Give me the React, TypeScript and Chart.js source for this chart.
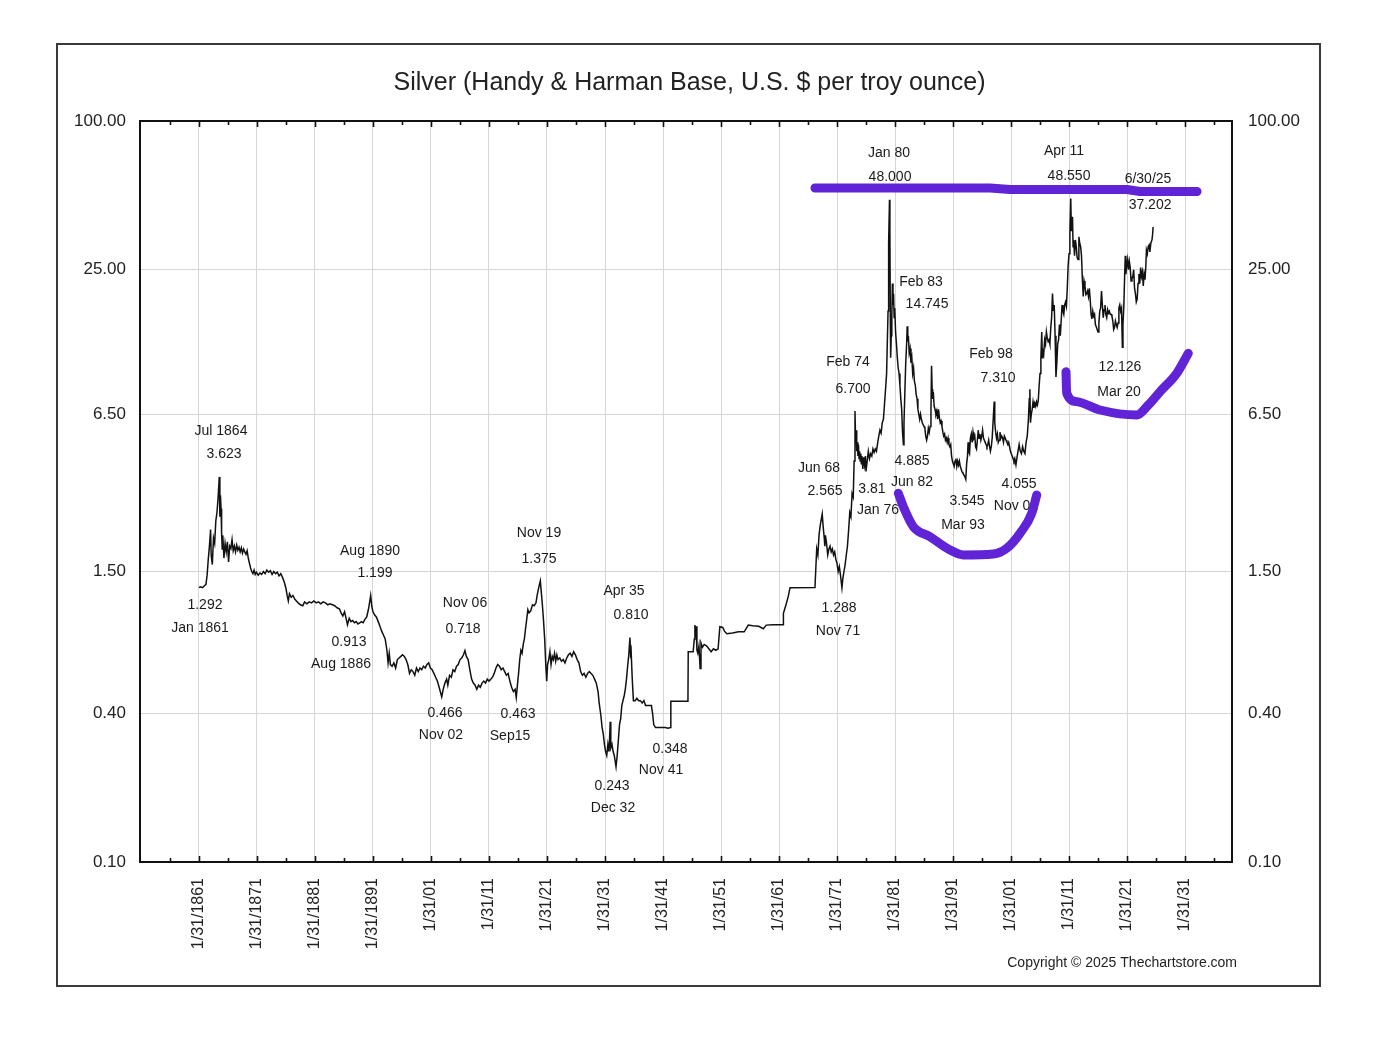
import React, { useEffect, useRef } from 'react';
import { Chart, registerables } from 'chart.js';

Chart.register(...registerables);

const FONT = '"Liberation Sans", Arial, Helvetica, sans-serif';
const TITLE = 'Silver (Handy & Harman Base, U.S. $ per troy ounce)';
const COPYRIGHT = 'Copyright \u00A9 2025 Thechartstore.com';

// axis ticks
const yTicks = [0.1, 0.4, 1.5, 6.5, 25, 100];
const xTickYears = [1861, 1871, 1881, 1891, 1901, 1911, 1921, 1931, 1941, 1951, 1961, 1971, 1981, 1991, 2001, 2011, 2021, 2031];
const xTickLabels = ['1/31/1861', '1/31/1871', '1/31/1881', '1/31/1891', '1/31/01', '1/31/11', '1/31/21', '1/31/31', '1/31/41', '1/31/51', '1/31/61', '1/31/71', '1/31/81', '1/31/91', '1/31/01', '1/31/11', '1/31/21', '1/31/31'];
const xMinorYears = [1856, 1866, 1876, 1886, 1896, 1906, 1916, 1926, 1936, 1946, 1956, 1966, 1976, 1986, 1996, 2006, 2016, 2026, 2036];

// silver price, [year, US$ per troy ounce]
const silver1861_1894: [number, number][] = [
  [1861.0, 1.292], [1861.3, 1.30], [1861.6, 1.29], [1861.9, 1.31], [1862.2, 1.33], [1862.4, 1.45], [1862.6, 1.68], [1862.8, 1.90],
  [1863.0, 2.22], [1863.1, 1.75], [1863.3, 1.60], [1863.5, 2.05], [1863.7, 1.95], [1863.9, 2.40], [1864.1, 2.60], [1864.3, 3.00],
  [1864.5, 3.623], [1864.6, 2.50], [1864.7, 3.05], [1864.8, 2.70], [1864.9, 2.15], [1865.0, 1.85], [1865.1, 2.10], [1865.3, 1.70],
  [1865.5, 1.95], [1865.7, 1.80], [1865.9, 1.98], [1866.1, 1.64], [1866.3, 1.90], [1866.5, 1.86], [1866.7, 2.02], [1866.9, 1.82],
  [1867.1, 1.90], [1867.3, 1.80], [1867.5, 1.92], [1867.7, 1.83], [1867.9, 1.88], [1868.1, 1.80], [1868.3, 1.87], [1868.5, 1.78],
  [1868.7, 1.85], [1868.9, 1.80], [1869.1, 1.76], [1869.3, 1.82], [1869.5, 1.70], [1869.7, 1.62], [1869.9, 1.55], [1870.1, 1.50],
  [1870.3, 1.47], [1870.5, 1.52], [1870.7, 1.46], [1870.9, 1.49], [1871.2, 1.45], [1871.5, 1.48], [1871.8, 1.46], [1872.1, 1.50],
  [1872.4, 1.47], [1872.7, 1.52], [1873.0, 1.49], [1873.3, 1.51], [1873.6, 1.46], [1873.9, 1.50], [1874.2, 1.47], [1874.5, 1.49],
  [1874.8, 1.44], [1875.1, 1.47], [1875.4, 1.42], [1875.7, 1.36], [1876.0, 1.28], [1876.2, 1.20], [1876.4, 1.14], [1876.6, 1.22],
  [1876.9, 1.18], [1877.2, 1.20], [1877.5, 1.16], [1877.8, 1.14], [1878.1, 1.12], [1878.5, 1.10], [1878.9, 1.09], [1879.2, 1.13],
  [1879.6, 1.11], [1880.0, 1.13], [1880.4, 1.12], [1880.8, 1.14], [1881.2, 1.12], [1881.6, 1.13], [1882.0, 1.11], [1882.4, 1.13],
  [1882.8, 1.12], [1883.2, 1.10], [1883.6, 1.11], [1884.0, 1.10], [1884.4, 1.09], [1884.8, 1.07], [1885.2, 1.06], [1885.5, 1.02],
  [1885.8, 0.99], [1886.1, 1.03], [1886.4, 0.96], [1886.6, 0.913], [1886.9, 0.97], [1887.2, 0.94], [1887.5, 0.95], [1887.8, 0.93],
  [1888.1, 0.94], [1888.4, 0.92], [1888.7, 0.93], [1889.0, 0.94], [1889.3, 0.93], [1889.6, 0.96], [1889.9, 0.98], [1890.2, 1.05],
  [1890.4, 1.12], [1890.6, 1.199], [1890.8, 1.08], [1891.0, 1.03], [1891.3, 1.00], [1891.6, 0.98], [1891.9, 0.94], [1892.2, 0.90],
  [1892.5, 0.86], [1892.8, 0.83], [1893.1, 0.80], [1893.4, 0.72], [1893.6, 0.64], [1893.8, 0.70], [1894.0, 0.63], [1894.3, 0.62],
  [1894.6, 0.64], [1894.9, 0.61],
];

const silver1895_1942: [number, number][] = [
  [1895.2, 0.66], [1895.5, 0.67], [1895.8, 0.68], [1896.1, 0.69], [1896.4, 0.68], [1896.7, 0.66], [1897.0, 0.63], [1897.3, 0.58],
  [1897.6, 0.60], [1897.9, 0.59], [1898.2, 0.57], [1898.5, 0.61], [1898.8, 0.59], [1899.1, 0.61], [1899.4, 0.60], [1899.7, 0.62],
  [1900.0, 0.61], [1900.3, 0.63], [1900.6, 0.64], [1900.9, 0.61], [1901.2, 0.60], [1901.5, 0.58], [1901.8, 0.56], [1902.1, 0.54],
  [1902.4, 0.51], [1902.6, 0.49], [1902.85, 0.466], [1903.1, 0.50], [1903.4, 0.53], [1903.7, 0.55], [1903.9, 0.52], [1904.2, 0.57],
  [1904.5, 0.56], [1904.8, 0.60], [1905.1, 0.59], [1905.4, 0.62], [1905.7, 0.63], [1906.0, 0.66], [1906.3, 0.67], [1906.6, 0.69],
  [1906.85, 0.718], [1907.1, 0.68], [1907.4, 0.66], [1907.7, 0.60], [1908.0, 0.55], [1908.3, 0.53], [1908.6, 0.52], [1908.9, 0.50],
  [1909.2, 0.52], [1909.5, 0.51], [1909.8, 0.53], [1910.1, 0.54], [1910.4, 0.53], [1910.7, 0.55], [1911.0, 0.54], [1911.3, 0.55],
  [1911.6, 0.56], [1911.9, 0.58], [1912.2, 0.61], [1912.5, 0.63], [1912.8, 0.62], [1913.1, 0.60], [1913.4, 0.61], [1913.7, 0.59],
  [1914.0, 0.57], [1914.3, 0.58], [1914.6, 0.54], [1914.9, 0.51], [1915.2, 0.49], [1915.5, 0.50], [1915.7, 0.463], [1915.9, 0.52],
  [1916.1, 0.58], [1916.3, 0.66], [1916.5, 0.72], [1916.7, 0.70], [1916.9, 0.76], [1917.1, 0.80], [1917.3, 0.88], [1917.5, 0.96],
  [1917.7, 1.05], [1917.9, 1.02], [1918.2, 1.04], [1918.5, 1.10], [1918.8, 1.09], [1919.1, 1.12], [1919.3, 1.20], [1919.6, 1.30],
  [1919.85, 1.375], [1920.0, 1.25], [1920.2, 1.10], [1920.4, 0.95], [1920.6, 0.80], [1920.8, 0.62], [1920.95, 0.54], [1921.1, 0.63],
  [1921.3, 0.66], [1921.5, 0.71], [1921.7, 0.63], [1921.9, 0.68], [1922.1, 0.66], [1922.3, 0.70], [1922.5, 0.65], [1922.7, 0.69],
  [1922.9, 0.66], [1923.2, 0.67], [1923.5, 0.65], [1923.8, 0.66], [1924.1, 0.64], [1924.4, 0.67], [1924.7, 0.69], [1925.0, 0.70],
  [1925.3, 0.68], [1925.6, 0.71], [1925.9, 0.69], [1926.2, 0.66], [1926.5, 0.64], [1926.8, 0.59], [1927.1, 0.57], [1927.4, 0.58],
  [1927.7, 0.56], [1928.0, 0.58], [1928.3, 0.59], [1928.6, 0.58], [1928.9, 0.57], [1929.2, 0.55], [1929.5, 0.53], [1929.8, 0.49],
  [1930.0, 0.44], [1930.3, 0.39], [1930.5, 0.35], [1930.7, 0.33], [1930.9, 0.30], [1931.1, 0.28], [1931.3, 0.27], [1931.5, 0.30],
  [1931.7, 0.28], [1931.9, 0.37], [1932.0, 0.29], [1932.2, 0.30], [1932.4, 0.28], [1932.6, 0.27], [1932.9, 0.243], [1933.1, 0.27],
  [1933.3, 0.31], [1933.5, 0.36], [1933.7, 0.38], [1933.9, 0.43], [1934.1, 0.45], [1934.3, 0.47], [1934.5, 0.50], [1934.7, 0.55],
  [1934.9, 0.62], [1935.1, 0.69], [1935.3, 0.810], [1935.4, 0.70], [1935.5, 0.72], [1935.7, 0.55], [1935.9, 0.45], [1936.2, 0.45],
  [1936.5, 0.46], [1936.8, 0.45], [1937.1, 0.45], [1937.4, 0.44], [1937.7, 0.45], [1938.0, 0.43], [1938.3, 0.43], [1938.6, 0.43],
  [1939.0, 0.43], [1939.2, 0.40], [1939.4, 0.36], [1939.7, 0.35], [1940.2, 0.35], [1940.8, 0.35], [1941.4, 0.35], [1941.85, 0.348],
  [1942.3, 0.35],
];

const silver1942_1972: [number, number][] = [
  [1942.35, 0.448], [1945.3, 0.448], [1945.35, 0.71], [1946.2, 0.71], [1946.4, 0.80], [1946.5, 0.91], [1946.6, 0.86], [1946.7, 0.90],
  [1946.85, 0.72], [1947.0, 0.70], [1947.2, 0.75], [1947.4, 0.608], [1947.55, 0.77], [1947.8, 0.74], [1948.1, 0.76], [1948.5, 0.75],
  [1948.9, 0.73], [1949.3, 0.71], [1949.7, 0.73], [1950.1, 0.72], [1950.5, 0.73], [1950.8, 0.897], [1951.3, 0.89], [1951.6, 0.86],
  [1952.0, 0.84], [1953.0, 0.845], [1954.0, 0.855], [1955.0, 0.855], [1955.7, 0.91], [1956.5, 0.905], [1957.5, 0.90], [1958.3, 0.88],
  [1958.8, 0.91], [1960.0, 0.913], [1961.74, 0.913], [1961.76, 1.016], [1962.2, 1.10], [1962.6, 1.19], [1962.9, 1.29], [1967.2, 1.293],
  [1967.35, 1.55], [1967.5, 1.85], [1967.7, 1.75], [1967.9, 2.10], [1968.1, 2.30], [1968.3, 2.45], [1968.45, 2.565], [1968.6, 2.30],
  [1968.8, 2.05], [1968.9, 1.90], [1969.0, 2.10], [1969.2, 1.95], [1969.4, 1.75], [1969.6, 1.85], [1969.8, 1.90], [1970.0, 1.80],
  [1970.2, 1.85], [1970.4, 1.75], [1970.6, 1.80], [1970.8, 1.68], [1971.0, 1.62], [1971.2, 1.50], [1971.4, 1.57], [1971.6, 1.45],
  [1971.85, 1.288], [1972.0, 1.40], [1972.2, 1.50], [1972.4, 1.60], [1972.6, 1.75], [1972.8, 1.90],
];

const silver1973_2001: [number, number][] = [
  [1973.0, 2.20], [1973.2, 2.60], [1973.4, 2.50], [1973.6, 3.10], [1973.8, 3.00], [1973.95, 4.20], [1974.1, 6.700], [1974.2, 5.20],
  [1974.3, 5.60], [1974.4, 4.60], [1974.5, 5.00], [1974.6, 4.40], [1974.7, 4.90], [1974.8, 4.30], [1974.9, 4.60], [1975.0, 4.20],
  [1975.1, 4.50], [1975.2, 4.10], [1975.3, 4.40], [1975.45, 3.90], [1975.6, 4.35], [1975.75, 4.05], [1975.9, 4.40], [1976.0, 3.81],
  [1976.2, 4.20], [1976.4, 4.60], [1976.6, 4.30], [1976.8, 4.50], [1977.0, 4.40], [1977.2, 4.70], [1977.4, 4.55], [1977.6, 4.70],
  [1977.8, 4.60], [1978.0, 4.95], [1978.2, 5.30], [1978.4, 5.60], [1978.6, 5.45], [1978.8, 6.00], [1979.0, 6.20], [1979.2, 7.20],
  [1979.4, 8.40], [1979.55, 9.50], [1979.7, 13.5], [1979.8, 17.0], [1979.9, 32.0], [1980.05, 48.000], [1980.12, 35.0], [1980.2, 15.0],
  [1980.25, 11.0], [1980.35, 13.5], [1980.45, 16.0], [1980.55, 22.0], [1980.65, 18.0], [1980.75, 20.0], [1980.85, 16.0], [1980.95, 17.5],
  [1981.1, 14.0], [1981.25, 12.5], [1981.4, 11.0], [1981.55, 10.0], [1981.7, 9.5], [1981.85, 8.5], [1982.0, 7.5], [1982.15, 6.8],
  [1982.3, 5.5], [1982.45, 4.885], [1982.55, 6.0], [1982.7, 8.0], [1982.85, 10.5], [1983.0, 12.5], [1983.1, 14.745], [1983.2, 12.8],
  [1983.3, 13.5], [1983.45, 11.5], [1983.6, 12.0], [1983.75, 10.5], [1983.9, 11.0], [1984.05, 9.5], [1984.2, 10.0], [1984.35, 8.8],
  [1984.5, 8.5], [1984.65, 7.8], [1984.8, 7.5], [1984.95, 6.8], [1985.1, 6.5], [1985.25, 6.2], [1985.4, 6.5], [1985.55, 6.2],
  [1985.7, 6.0], [1985.85, 5.9], [1986.0, 5.8], [1986.15, 5.7], [1986.3, 5.3], [1986.45, 5.1], [1986.6, 5.3], [1986.75, 5.7],
  [1986.9, 5.5], [1987.05, 5.8], [1987.2, 6.8], [1987.3, 10.2], [1987.4, 8.2], [1987.5, 7.5], [1987.6, 8.0], [1987.75, 7.0],
  [1987.9, 6.8], [1988.05, 6.5], [1988.2, 6.7], [1988.35, 6.2], [1988.5, 6.8], [1988.65, 6.3], [1988.8, 6.0], [1988.95, 6.1],
  [1989.1, 5.8], [1989.25, 5.5], [1989.4, 5.3], [1989.55, 5.4], [1989.7, 5.1], [1989.85, 5.2], [1990.0, 5.0], [1990.15, 5.2],
  [1990.3, 4.9], [1990.45, 4.8], [1990.6, 4.9], [1990.75, 4.4], [1990.9, 4.2], [1991.05, 4.1], [1991.2, 4.0], [1991.35, 4.2],
  [1991.5, 4.3], [1991.65, 4.0], [1991.8, 4.2], [1991.95, 4.05], [1992.1, 4.2], [1992.25, 4.0], [1992.4, 3.9], [1992.55, 3.8],
  [1992.7, 3.75], [1992.85, 3.7], [1993.0, 3.65], [1993.2, 3.545], [1993.35, 4.1], [1993.5, 4.4], [1993.6, 5.0], [1993.7, 4.6],
  [1993.85, 4.5], [1994.0, 5.2], [1994.15, 5.4], [1994.3, 5.0], [1994.45, 5.5], [1994.6, 5.2], [1994.75, 5.3], [1994.9, 4.8],
  [1995.05, 4.7], [1995.2, 5.1], [1995.35, 5.6], [1995.5, 5.2], [1995.65, 5.4], [1995.8, 5.1], [1995.95, 5.3], [1996.1, 5.6],
  [1996.25, 5.2], [1996.4, 5.1], [1996.55, 5.0], [1996.7, 4.9], [1996.85, 4.8], [1997.0, 4.9], [1997.15, 5.1], [1997.3, 4.8],
  [1997.45, 4.6], [1997.6, 4.8], [1997.75, 5.2], [1997.9, 6.0], [1998.1, 7.310], [1998.2, 6.0], [1998.35, 5.5], [1998.5, 5.2],
  [1998.65, 5.4], [1998.8, 5.0], [1998.95, 5.1], [1999.1, 5.5], [1999.25, 5.2], [1999.4, 5.3], [1999.55, 5.2], [1999.7, 5.0],
  [1999.85, 5.3], [2000.0, 5.2], [2000.15, 5.1], [2000.3, 5.0], [2000.45, 4.9], [2000.6, 5.0], [2000.75, 4.8], [2000.9, 4.6],
  [2001.05, 4.5], [2001.2, 4.4], [2001.35, 4.3], [2001.5, 4.2], [2001.65, 4.3], [2001.85, 4.055],
];

const silver2002_2025: [number, number][] = [
  [2002.0, 4.3], [2002.2, 4.6], [2002.4, 4.9], [2002.6, 4.6], [2002.8, 4.5], [2003.0, 4.8], [2003.2, 4.6], [2003.4, 4.5],
  [2003.6, 5.0], [2003.8, 5.3], [2004.0, 6.2], [2004.15, 7.5], [2004.25, 8.2], [2004.35, 6.0], [2004.5, 6.5], [2004.65, 6.8],
  [2004.8, 7.3], [2004.95, 6.9], [2005.1, 7.2], [2005.25, 7.0], [2005.4, 7.3], [2005.55, 7.1], [2005.7, 7.4], [2005.85, 8.5],
  [2006.0, 9.5], [2006.15, 11.0], [2006.3, 14.0], [2006.4, 11.0], [2006.5, 12.0], [2006.65, 11.5], [2006.8, 13.0], [2006.95, 12.5],
  [2007.1, 14.0], [2007.25, 13.2], [2007.4, 12.8], [2007.55, 13.0], [2007.7, 12.5], [2007.85, 14.5], [2008.0, 16.0], [2008.15, 20.0],
  [2008.3, 17.0], [2008.45, 18.0], [2008.6, 13.5], [2008.75, 9.2], [2008.9, 10.5], [2009.05, 12.5], [2009.2, 13.0], [2009.35, 15.0],
  [2009.5, 13.5], [2009.65, 15.5], [2009.8, 18.0], [2009.95, 17.0], [2010.1, 16.5], [2010.25, 18.0], [2010.4, 18.5], [2010.55, 17.8],
  [2010.7, 21.0], [2010.85, 26.0], [2011.0, 29.0], [2011.15, 35.0], [2011.3, 48.550], [2011.4, 36.0], [2011.5, 38.0], [2011.6, 41.0],
  [2011.7, 31.0], [2011.8, 33.0], [2011.95, 28.5], [2012.1, 33.0], [2012.25, 31.0], [2012.4, 28.0], [2012.55, 27.5], [2012.7, 34.0],
  [2012.85, 32.0], [2013.0, 31.0], [2013.15, 28.5], [2013.3, 23.0], [2013.45, 19.5], [2013.6, 22.5], [2013.75, 21.5], [2013.9, 19.8],
  [2014.05, 20.0], [2014.2, 20.5], [2014.35, 19.5], [2014.5, 21.0], [2014.65, 19.0], [2014.8, 16.5], [2014.95, 15.8], [2015.1, 17.0],
  [2015.25, 16.2], [2015.4, 16.5], [2015.55, 15.0], [2015.7, 14.7], [2015.85, 14.3], [2016.0, 14.0], [2016.15, 15.2], [2016.3, 17.0],
  [2016.45, 17.5], [2016.6, 20.5], [2016.75, 18.0], [2016.9, 16.0], [2017.05, 17.2], [2017.2, 18.0], [2017.35, 16.5], [2017.5, 16.0],
  [2017.65, 17.2], [2017.8, 16.7], [2017.95, 17.0], [2018.1, 16.5], [2018.25, 16.5], [2018.4, 16.2], [2018.55, 15.5], [2018.7, 14.3],
  [2018.85, 14.6], [2019.0, 15.5], [2019.15, 15.0], [2019.3, 14.6], [2019.45, 15.2], [2019.6, 17.5], [2019.75, 18.0], [2019.9, 17.0],
  [2020.05, 17.5], [2020.2, 12.126], [2020.3, 15.0], [2020.45, 17.8], [2020.6, 24.0], [2020.7, 28.5], [2020.8, 24.0], [2020.95, 26.0],
  [2021.1, 27.5], [2021.25, 25.0], [2021.4, 27.0], [2021.55, 25.5], [2021.7, 22.5], [2021.85, 23.0], [2022.0, 23.5], [2022.15, 25.0],
  [2022.3, 21.0], [2022.45, 20.0], [2022.6, 18.5], [2022.75, 19.0], [2022.9, 22.0], [2023.05, 24.0], [2023.2, 22.0], [2023.35, 25.5],
  [2023.5, 23.5], [2023.65, 24.5], [2023.8, 21.5], [2023.95, 24.0], [2024.1, 22.8], [2024.25, 26.0], [2024.35, 30.0], [2024.5, 29.0],
  [2024.65, 31.0], [2024.8, 31.5], [2024.95, 29.5], [2025.1, 32.0], [2025.3, 33.0], [2025.4, 34.5], [2025.5, 37.202],
];

// hand-drawn purple marks, [year, price]
const markResistance: [number, number][] = [[1967.2, 53.55], [1997.38, 53.55], [2000.83, 52.8], [2021.0, 52.8], [2023.24, 51.83], [2033.07, 51.83]];
const markBase1: [number, number][] = [[1981.57, 3.11], [1982.43, 2.745], [1984.16, 2.278], [1987.03, 2.075], [1990.48, 1.833], [1992.78, 1.75], [1997.95, 1.765], [2000.26, 1.862], [2002.55, 2.142], [2004.57, 2.58], [2005.43, 3.06]];
const markBase2: [number, number][] = [[2010.48, 9.66], [2010.6, 7.9], [2012.33, 7.31], [2016.36, 6.76], [2022.67, 6.45], [2024.67, 7.08], [2026.69, 8.02], [2029.57, 9.52], [2031.57, 11.47]];

// text annotations: [text, year, price] (centre of text)
const priceLabels: [string, number, number][] = [
  ['Jul 1864', 1864.79, 5.557], ['3.623', 1865.31, 4.485],
  ['1.292', 1862.03, 1.098], ['Jan 1861', 1861.17, 0.886],
  ['Aug 1890', 1890.48, 1.816], ['1.199', 1891.34, 1.479],
  ['0.913', 1886.86, 0.777], ['Aug 1886', 1885.48, 0.633],
  ['Nov 06', 1906.86, 1.118], ['0.718', 1906.52, 0.878],
  ['0.466', 1903.41, 0.401], ['Nov 02', 1902.72, 0.3266],
  ['0.463', 1916.0, 0.3973], ['Sep15', 1914.62, 0.3236],
  ['Nov 19', 1919.62, 2.148], ['1.375', 1919.62, 1.685],
  ['Apr 35', 1934.28, 1.251], ['0.810', 1935.48, 1.0],
  ['0.243', 1932.21, 0.2031], ['Dec 32', 1932.38, 0.1654],
  ['0.348', 1942.21, 0.2868], ['Nov 41', 1940.66, 0.2359],
  ['Jun 68', 1967.9, 3.937], ['2.565', 1968.93, 3.177],
  ['1.288', 1971.34, 1.067], ['Nov 71', 1971.17, 0.8614],
  ['Feb 74', 1972.9, 10.576], ['6.700', 1973.76, 8.222],
  ['3.81', 1977.03, 3.237], ['Jan 76', 1978.07, 2.662],
  ['Jan 80', 1979.97, 74.2], ['48.000', 1980.14, 59.33],
  ['Feb 83', 1985.48, 22.29], ['14.745', 1986.52, 18.16],
  ['4.885', 1983.93, 4.202], ['Jun 82', 1983.93, 3.455],
  ['3.545', 1993.41, 2.894], ['Mar 93', 1992.72, 2.314],
  ['Feb 98', 1997.55, 11.394], ['7.310', 1998.76, 9.11],
  ['4.055', 2002.38, 3.392], ['Nov 01', 2001.86, 2.762],
  ['Apr 11', 2010.14, 75.6], ['48.550', 2011.0, 59.88],
  ['6/30/25', 2024.62, 58.24], ['37.202', 2024.97, 45.7],
  ['12.126', 2019.79, 10.09], ['Mar 20', 2019.62, 7.995],
];

const X_MIN = 1850.83;
const X_MAX = 2039.1;
const PURPLE = 'rgb(96, 36, 214)';

const toXY = (arr: [number, number][]) => arr.map(([x, y]) => ({ x, y }));

const decorPlugin = {
  id: 'decor',
  beforeDraw(chart: any) {
    const { ctx } = chart;
    ctx.save();
    ctx.fillStyle = '#ffffff';
    ctx.fillRect(0, 0, chart.width, chart.height);
    ctx.strokeStyle = '#3a3a3a';
    ctx.lineWidth = 2;
    ctx.strokeRect(57, 44, 1263, 942);
    ctx.restore();
  },
  afterDatasetDraw(chart: any, args: any) {
    if (args.index !== 0) return;
    const { ctx } = chart;
    const xs = chart.scales.x;
    const ys = chart.scales.y;
    ctx.save();
    ctx.font = `14px ${FONT}`;
    ctx.fillStyle = '#1a1a1a';
    ctx.textAlign = 'center';
    ctx.textBaseline = 'middle';
    for (const [t, yr, p] of priceLabels) {
      ctx.fillText(t, xs.getPixelForValue(yr), ys.getPixelForValue(p));
    }
    ctx.restore();
  },
  afterDraw(chart: any) {
    const { ctx, chartArea } = chart;
    const { left, right, top, bottom } = chartArea;
    const xs = chart.scales.x;
    ctx.save();
    ctx.strokeStyle = '#111';
    ctx.lineWidth = 1.6;
    const drawTick = (yr: number, len: number) => {
      const px = Math.round(xs.getPixelForValue(yr)) + 0.5;
      if (px < left || px > right) return;
      ctx.beginPath();
      ctx.moveTo(px, bottom);
      ctx.lineTo(px, bottom - len);
      ctx.moveTo(px, top);
      ctx.lineTo(px, top + len);
      ctx.stroke();
    };
    xTickYears.forEach((y) => drawTick(y, 6));
    xMinorYears.forEach((y) => drawTick(y, 4));
    ctx.lineWidth = 2;
    ctx.strokeStyle = '#111';
    ctx.strokeRect(left, top, right - left, bottom - top);
    ctx.font = `14px ${FONT}`;
    ctx.fillStyle = '#222';
    ctx.textAlign = 'right';
    ctx.textBaseline = 'middle';
    ctx.fillText(COPYRIGHT, right + 5, bottom + 101);
    ctx.restore();
  },
};

export default function App() {
  const ref = useRef<HTMLCanvasElement>(null);
  useEffect(() => {
    const canvas = ref.current;
    if (!canvas) return;
    const series = [...silver1861_1894, ...silver1895_1942, ...silver1942_1972, ...silver1973_2001, ...silver2002_2025];
    const purpleStyle = {
      borderColor: PURPLE,
      borderWidth: 9,
      pointRadius: 0,
      borderCapStyle: 'round',
      borderJoinStyle: 'round',
      fill: false,
      order: 0,
    };
    const yAxisBase = (position: 'left' | 'right', width: number, showGrid: boolean) => ({
      type: 'logarithmic',
      position,
      min: 0.1,
      max: 100,
      afterBuildTicks: (scale: any) => {
        scale.ticks = yTicks.map((v) => ({ value: v }));
      },
      afterFit: (scale: any) => {
        scale.width = width;
      },
      ticks: {
        callback: (v: any) => Number(v).toFixed(2),
        font: { family: FONT, size: 17 },
        color: '#222',
        padding: position === 'left' ? 14 : 16,
        autoSkip: false,
      },
      grid: { display: showGrid, color: '#d6d6d6', lineWidth: 1, drawTicks: false },
      border: { display: false },
    });
    const chart = new Chart(canvas, {
      type: 'line',
      data: {
        datasets: [
          {
            label: 'Silver',
            data: toXY(series),
            borderColor: '#111',
            borderWidth: 1.5,
            pointRadius: 0,
            tension: 0,
            fill: false,
            order: 1,
          },
          { label: 'Resistance', data: toXY(markResistance), tension: 0, ...purpleStyle } as any,
          { label: 'Base 1', data: toXY(markBase1), cubicInterpolationMode: 'monotone', ...purpleStyle } as any,
          { label: 'Base 2', data: toXY(markBase2), cubicInterpolationMode: 'monotone', ...purpleStyle } as any,
        ],
      },
      options: {
        responsive: false,
        devicePixelRatio: 1,
        animation: false,
        events: [],
        layout: { padding: 0 },
        plugins: {
          legend: { display: false },
          tooltip: { enabled: false },
          title: {
            display: true,
            text: TITLE,
            color: '#222',
            font: { family: FONT, size: 25, weight: 'normal', lineHeight: 1.2 },
            padding: { top: 68, bottom: 23 },
          },
        },
        scales: {
          x: {
            type: 'linear',
            position: 'bottom',
            min: X_MIN,
            max: X_MAX,
            afterBuildTicks: (scale: any) => {
              scale.ticks = xTickYears.map((v) => ({ value: v }));
            },
            afterFit: (scale: any) => {
              scale.height = 182;
            },
            ticks: {
              callback: (_v: any, i: number) => xTickLabels[i] ?? '',
              minRotation: 90,
              maxRotation: 90,
              autoSkip: false,
              padding: 16,
              font: { family: FONT, size: 16 },
              color: '#222',
            },
            grid: { color: '#d6d6d6', lineWidth: 1, drawTicks: false },
            border: { display: false },
          },
          y: yAxisBase('left', 140, true) as any,
          y2: yAxisBase('right', 147, false) as any,
        },
      } as any,
      plugins: [decorPlugin],
    });
    return () => chart.destroy();
  }, []);
  return (
    <div style={{ position: 'absolute', left: 0, top: 0, width: 1379, height: 1044, background: '#fff' }}>
      <canvas ref={ref} width={1379} height={1044} style={{ display: 'block', width: 1379, height: 1044 }} />
    </div>
  );
}
